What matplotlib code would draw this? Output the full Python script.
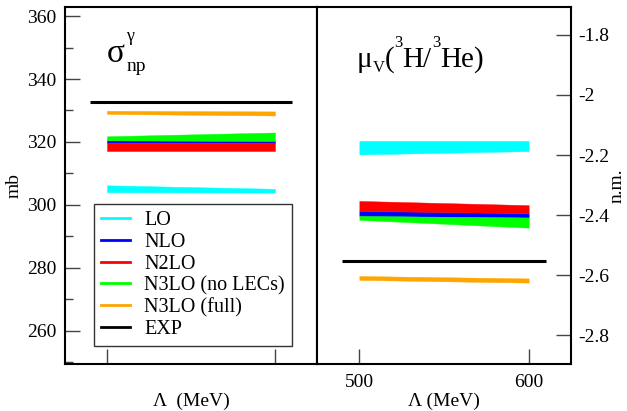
import matplotlib
matplotlib.use('Agg')
import matplotlib.pyplot as plt
from matplotlib.lines import Line2D
from matplotlib.ticker import FixedLocator, MultipleLocator, FuncFormatter

plt.rcParams['font.family'] = ['Liberation Serif', 'DejaVu Serif']
plt.rcParams['axes.unicode_minus'] = False

# ---------------- data ----------------
cutoffs = [500, 600]
orders = ['LO', 'NLO', 'N2LO', 'N3LO (no LECs)', 'N3LO (full)']
colors = ['#00ffff', '#0000ff', '#ff0000', '#00ff00', '#ffa500']

sigma_lower = [[304.0, 303.9], [319.7, 319.8], [317.1, 317.1], [320.5, 320.3], [328.9, 328.4]]
sigma_upper = [[306.2, 305.1], [320.5, 320.3], [319.7, 319.8], [321.8, 323.0], [329.9, 329.7]]
sigma_exp = 332.8

mu_lower = [[-2.198, -2.187], [-2.403, -2.408], [-2.386, -2.394], [-2.416, -2.442], [-2.616, -2.625]]
mu_upper = [[-2.153, -2.153], [-2.386, -2.394], [-2.353, -2.367], [-2.403, -2.408], [-2.603, -2.611]]
mu_exp = -2.553

exp_range = [490, 610]
exp_label = 'EXP'

left_yticks = [260, 280, 300, 320, 340, 360]
right_yticks = [-1.8, -2.0, -2.2, -2.4, -2.6, -2.8]
xticks = [500, 600]

# ---------------- figure ----------------
W, H = 627, 411
fig = plt.figure(figsize=(W / 100, H / 100), dpi=100)
axL = fig.add_axes([0.1037, 0.1144, 0.4019, 0.8686])
axR = fig.add_axes([0.5056, 0.1144, 0.4051, 0.8686])

fmt = FuncFormatter(lambda v, p: '%g' % v)

for ax, lo, up, exp in [(axL, sigma_lower, sigma_upper, sigma_exp),
                        (axR, mu_lower, mu_upper, mu_exp)]:
    for l, u, c in zip(lo, up, colors):
        ax.fill_between(cutoffs, l, u, color=c, lw=0.3, edgecolor=c)
    ax.plot(exp_range, [exp, exp], color='k', lw=2.2, solid_capstyle='butt')
    ax.set_xlim(475, 625)
    ax.xaxis.set_major_locator(FixedLocator(xticks))
    for s in ax.spines.values():
        s.set_linewidth(1.5)
    ax.tick_params(which='major', direction='in', length=11, width=1.0,
                   color='#444444', labelsize=14)
    ax.tick_params(which='minor', direction='in', length=6, width=1.0,
                   color='#444444')

axL.set_ylim(249.4, 362.9)
axL.yaxis.set_major_locator(FixedLocator(left_yticks))
axL.yaxis.set_minor_locator(MultipleLocator(10))
axL.yaxis.set_major_formatter(fmt)
axL.set_xticklabels([])
axL.tick_params(axis='y', pad=6)
axL.set_ylabel('mb', fontsize=14)
axL.yaxis.set_label_coords(-0.202, 0.5)
axL.yaxis.label.set_va('center')
axL.set_xlabel('Λ  (MeV)', fontsize=14)
axL.xaxis.set_label_coords(0.5, -0.106)
axL.xaxis.label.set_va('center')

axR.set_ylim(-2.896, -1.707)
axR.yaxis.tick_right()
axR.yaxis.set_major_locator(FixedLocator(right_yticks))
axR.yaxis.set_major_formatter(fmt)
axR.tick_params(axis='y', pad=5)
axR.tick_params(axis='x', pad=7)
axR.yaxis.set_label_position('right')
axR.set_ylabel('n.m.', fontsize=14, rotation=90)
axR.yaxis.set_label_coords(1.181, 0.5)
axR.yaxis.label.set_va('center')
axR.set_xlabel('Λ (MeV)', fontsize=14)
axR.xaxis.set_label_coords(0.5, -0.106)
axR.xaxis.label.set_va('center')

renderer = fig.canvas.get_renderer()


def chain(pieces, x0, base):
    """pieces: (text, size, baseline offset px, gap px before). Lay out left to right."""
    x = x0
    for s, size, dy, gap in pieces:
        x += gap
        t = fig.text(x / W, 1 - (base + dy) / H, s, fontsize=size,
                     ha='left', va='baseline')
        x += t.get_window_extent(renderer).width
    return x


# sigma^gamma_np
t_sig = fig.text(107 / W, 1 - 62 / H, 'σ', fontsize=24, ha='left', va='baseline')
xr = 107 + t_sig.get_window_extent(renderer).width
fig.text((xr + 1) / W, 1 - 41 / H, 'γ', fontsize=13, ha='left', va='baseline')
fig.text((xr + 2) / W, 1 - 71 / H, 'np', fontsize=14, ha='left', va='baseline')

# mu_V(3H/3He)
chain([('μ', 21, 0, 0), ('V', 12, 5, 0), ('(', 21, 0, 0), ('3', 12, -20, 0),
       ('H/', 21, 0, 0), ('3', 12, -20, 0), ('He)', 21, 0, 0)], 357, 67)

handles = [Line2D([], [], color=c, lw=2) for c in colors] + [Line2D([], [], color='k', lw=2)]
labels = orders + [exp_label]
leg = axL.legend(handles, labels, loc='upper left', bbox_to_anchor=(0.115, 0.448),
                 borderaxespad=0, fontsize=14.5, frameon=True, fancybox=False,
                 edgecolor='k', labelspacing=0.13, handlelength=1.45,
                 handletextpad=0.7, borderpad=0.35)
leg.get_frame().set_linewidth(1.0)

fig.savefig('out.png', dpi=100)
